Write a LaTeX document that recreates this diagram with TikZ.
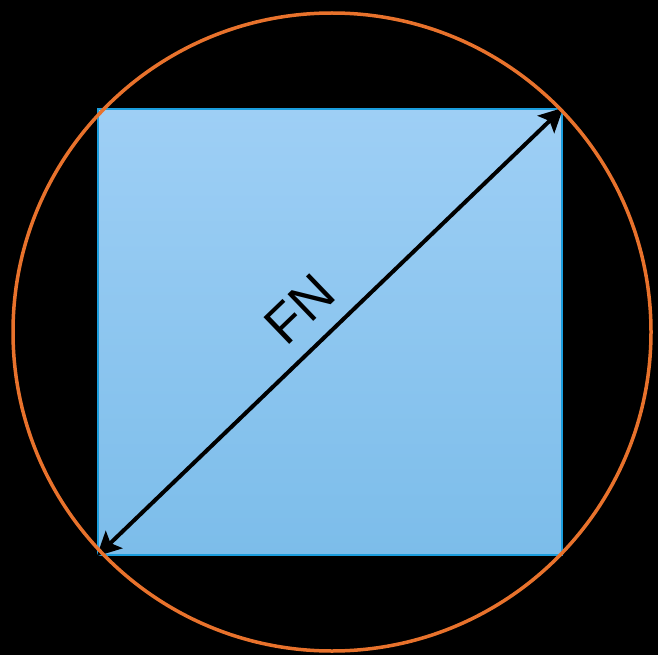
\documentclass[tikz,border=0pt]{standalone}
\usepackage{fontspec}
\setmainfont{Liberation Sans}
\usetikzlibrary{arrows.meta}
\definecolor{ringorange}{RGB}{232,114,44}
\definecolor{sqtop}{RGB}{158,207,245}
\definecolor{sqbot}{RGB}{124,189,234}
\definecolor{sqborder}{RGB}{27,158,222}
\tikzset{
  ring/.style={draw=ringorange, line width=3.5pt},
  sqbox/.style={draw=sqborder, line width=2.5pt, top color=sqtop, bottom color=sqbot, shading angle=0},
  diag/.style={draw=black, line width=4pt, {Stealth[length=24pt 0,width=24pt 0,inset=5pt]}-{Stealth[length=24pt 0,width=24pt 0,inset=5pt]}},
  lbl/.style={font=\fontsize{54}{60}\selectfont, sloped, anchor=south, inner sep=0pt}
}
\begin{document}
\begin{tikzpicture}[x=1pt,y=-1pt]
  \fill[black] (0,0) rectangle (658,655);
  \useasboundingbox (0,0) rectangle (658,655);
  \node[sqbox, minimum width=464pt, minimum height=446pt, inner sep=0pt] (sq) at (330,332) {};
  \coordinate (bl) at (sq.south west);
  \coordinate (tr) at (sq.north east);
  \draw[diag] (bl) -- node[lbl, pos=0.49, yshift=17pt] (fn) {FN} (tr);
  \draw[ring] (332,332) circle [radius=319pt];
\end{tikzpicture}
\end{document}
